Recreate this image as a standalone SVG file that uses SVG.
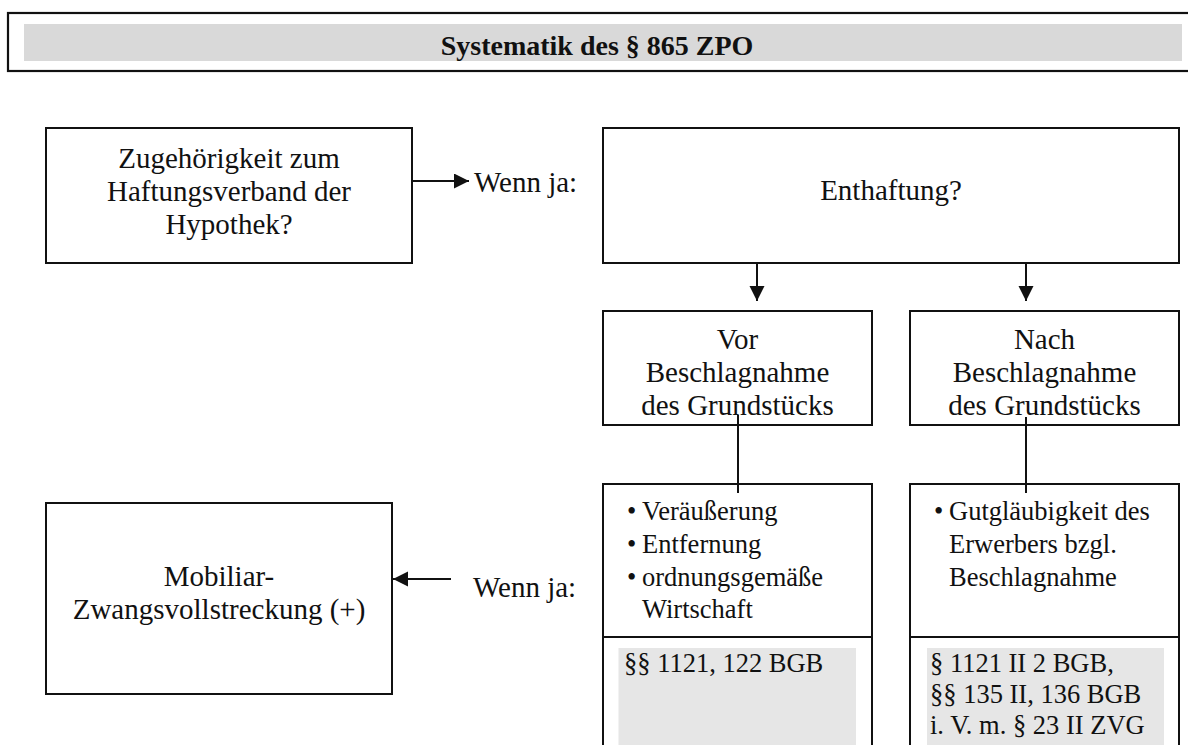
<svg xmlns="http://www.w3.org/2000/svg" width="1188" height="745" viewBox="0 0 1188 745">
  <defs>
    <style>
      .box { fill: #ffffff; stroke: #111111; stroke-width: 2; }
      .conn { stroke: #111111; stroke-width: 2; fill: none; }
      .t { font-family: "Liberation Serif", "Times New Roman", serif; font-size: 29px; fill: #111111; }
      .tc { text-anchor: middle; }
      .s { font-family: "Liberation Serif", "Times New Roman", serif; font-size: 26.5px; fill: #111111; }
      .title { font-family: "Liberation Serif", "Times New Roman", serif; font-size: 28px; font-weight: bold; fill: #111111; text-anchor: middle; }
    </style>
    <marker id="ah" markerWidth="16" markerHeight="16" refX="15" refY="7.5" orient="auto" markerUnits="userSpaceOnUse">
      <path d="M0,0 L15,7.5 L0,15 Z" fill="#111111"/>
    </marker>
  </defs>
  <rect width="1188" height="745" fill="#ffffff"/>

  <g id="title">
    <rect x="8" y="13" width="1200" height="58" fill="#ffffff" stroke="#111111" stroke-width="2.2"/>
    <rect x="24" y="24" width="1158" height="37" fill="#d9d9d9"/>
    <text class="title" x="597" y="55">Systematik des § 865 ZPO</text>
  </g>

  <g id="zugehoerigkeit">
    <rect class="box" x="46" y="128" width="366" height="135"/>
    <text class="t tc" x="229" y="168">Zugehörigkeit zum</text>
    <text class="t tc" x="229" y="201">Haftungsverband der</text>
    <text class="t tc" x="229" y="234">Hypothek?</text>
  </g>

  <g id="wennja1">
    <text class="t" x="474" y="192">Wenn ja:</text>
  </g>

  <g id="enthaftung">
    <rect class="box" x="603" y="128" width="576" height="135"/>
    <text class="t tc" x="891" y="200">Enthaftung?</text>
  </g>

  <g id="vor">
    <rect class="box" x="603" y="311" width="269" height="114"/>
    <text class="t tc" x="737.5" y="349">Vor</text>
    <text class="t tc" x="737.5" y="382">Beschlagnahme</text>
    <text class="t tc" x="737.5" y="415">des Grundstücks</text>
  </g>

  <g id="nach">
    <rect class="box" x="910" y="311" width="269" height="114"/>
    <text class="t tc" x="1044.5" y="349">Nach</text>
    <text class="t tc" x="1044.5" y="382">Beschlagnahme</text>
    <text class="t tc" x="1044.5" y="415">des Grundstücks</text>
  </g>

  <g id="vor-details">
    <rect class="box" x="603" y="484" width="269" height="280"/>
    <line x1="603" y1="637" x2="872" y2="637" stroke="#111111" stroke-width="2"/>
    <text class="s" x="627" y="520">•</text>
    <text class="s" x="642" y="520">Veräußerung</text>
    <text class="s" x="627" y="553">•</text>
    <text class="s" x="642" y="553">Entfernung</text>
    <text class="s" x="627" y="586">•</text>
    <text class="s" x="642" y="586">ordnungsgemäße</text>
    <text class="s" x="642" y="618">Wirtschaft</text>
    <rect x="618.5" y="648" width="237.5" height="110" fill="#e6e6e6"/>
    <text class="s" x="624" y="672">§§ 1121, 122 BGB</text>
  </g>

  <g id="nach-details">
    <rect class="box" x="910" y="484" width="269" height="280"/>
    <line x1="910" y1="637" x2="1179" y2="637" stroke="#111111" stroke-width="2"/>
    <text class="s" x="934" y="520">•</text>
    <text class="s" x="949" y="520">Gutgläubigkeit des</text>
    <text class="s" x="949" y="553">Erwerbers bzgl.</text>
    <text class="s" x="949" y="586">Beschlagnahme</text>
    <rect x="927" y="648" width="237" height="110" fill="#e6e6e6"/>
    <text class="s" x="930" y="672">§ 1121 II 2 BGB,</text>
    <text class="s" x="930" y="703">§§ 135 II, 136 BGB</text>
    <text class="s" x="930" y="734">i. V. m. § 23 II ZVG</text>
  </g>

  <g id="wennja2">
    <text class="t" x="473" y="597">Wenn ja:</text>
  </g>

  <g id="mobiliar">
    <rect class="box" x="46" y="503" width="346" height="191"/>
    <text class="t tc" x="219" y="586">Mobiliar-</text>
    <text class="t tc" x="219" y="619">Zwangsvollstreckung (+)</text>
  </g>

  <g id="connectors">
    <line class="conn" x1="412" y1="181" x2="469" y2="181" marker-end="url(#ah)"/>
    <line class="conn" x1="757" y1="263" x2="757" y2="301" marker-end="url(#ah)"/>
    <line class="conn" x1="1026" y1="263" x2="1026" y2="301" marker-end="url(#ah)"/>
    <line class="conn" x1="738" y1="415" x2="738" y2="493"/>
    <line class="conn" x1="1026" y1="417" x2="1026" y2="493"/>
    <line class="conn" x1="451" y1="579" x2="393" y2="579" marker-end="url(#ah)"/>
  </g>
</svg>
